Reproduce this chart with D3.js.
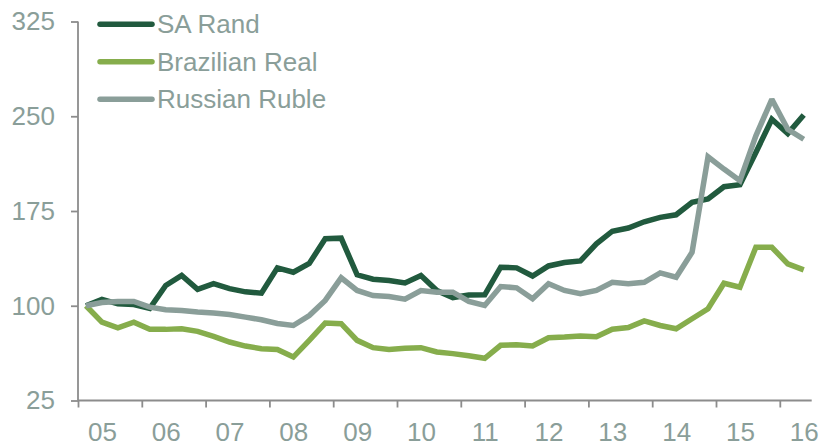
<!DOCTYPE html>
<html>
<head>
<meta charset="utf-8">
<script src="https://cdn.jsdelivr.net/npm/d3@7"></script>
<style>
  html, body { margin: 0; padding: 0; background: #fff; }
  svg { display: block; font-family: "Liberation Sans", Arial, sans-serif; }
</style>
</head>
<body>
<svg id="chart" width="819" height="444"></svg>
<script>
// Currency indices, quarterly, 2005 Q1 = 100 (through 2016 Q2)
const yearLabels = ["05","06","07","08","09","10","11","12","13","14","15","16"];
const yTicks = [25, 100, 175, 250, 325];

const saRand = [
  100, 105, 101.5, 101, 98, 116, 124, 113, 117.5, 113.5, 111, 110,
  130, 126.5, 133.5, 153, 153.5, 124.5, 121, 120, 118, 124, 112, 106.5,
  108.5, 108.7, 130.5, 130, 123.5, 131.5, 134.2, 135.5, 149, 159, 161.5, 166.5,
  170, 172, 181.8, 184.5, 194.2, 195.8, 221.3, 247.6, 236.3, 251
];
const brazilianReal = [
  100, 87, 82.6, 87, 81.3, 81.3, 81.8, 79.7, 75.8, 71.3, 68.1, 66,
  65.3, 59.4, 72.6, 86.3, 85.8, 72.6, 66.8, 65.3, 66.3, 66.8, 63.4, 62.1,
  60.4, 58.4, 68.7, 69.2, 68.1, 74.7, 75.2, 76, 75.4, 81.4, 82.7, 88, 84.4,
  81.8, 89.7, 97.6, 117.8, 114.7, 146.3, 146.3, 133.2, 128.4
];
const russianRuble = [
  100, 102.6, 103.4, 103.4, 98.9, 96.8, 96.3, 95, 94.2, 93.1, 91, 88.9,
  86, 84.4, 92.3, 104.2, 122.1, 112.1, 108.1, 107.3, 105.2, 112.1, 110.7, 110.7,
  103.5, 100.2, 115.2, 114.2, 105.5, 117.4, 112.1, 109.5, 112.1, 118.6, 117.4, 118.6,
  126, 122.6, 142.3, 217.9, 208.2, 199, 234.5, 263.4, 239.7, 231.8
];

const seriesNames = ["SA Rand", "Brazilian Real", "Russian Ruble"];
const seriesColors = ["#215a3e", "#86ad4c", "#8a9e99"];
const seriesData = [saRand, brazilianReal, russianRuble];

const textColor = "#8a9e99";
const axisColor = "#8c8c8c";

const svg = d3.select("#chart");

const nQ = saRand.length;
// continuous quarter position: 0 = start of 2005, 46 = mid 2016
const x = d3.scaleLinear().domain([0, nQ]).range([78, 811.7]);
const y = d3.scaleLinear().domain([25, 325]).range([400.5, 21.5]);

// Y axis
const yAxis = svg.append("g")
  .attr("transform", `translate(${x(0)},0)`)
  .call(d3.axisLeft(y).tickValues(yTicks).tickSize(7).tickPadding(16).tickSizeOuter(0));
yAxis.select(".domain").attr("stroke", axisColor).attr("stroke-width", 1.8)
  .attr("d", `M0,${y(325)}V${y(25)}`);
yAxis.selectAll(".tick line").attr("stroke", axisColor).attr("stroke-width", 1.8);
yAxis.selectAll(".tick text").attr("fill", textColor).attr("font-size", 26)
  .attr("font-family", "Liberation Sans, Arial, sans-serif");

// X axis: year boundary marks
const yearStarts = yearLabels.map((d, i) => i * 4);
const xMarks = svg.append("g")
  .attr("transform", `translate(0,${y(25)})`)
  .call(d3.axisBottom(x).tickValues(yearStarts).tickFormat("").tickSize(7).tickSizeOuter(0));
xMarks.select(".domain").attr("stroke", axisColor).attr("stroke-width", 1.8)
  .attr("d", `M${x(0)},0H${x(nQ)}`);
xMarks.selectAll(".tick line").attr("stroke", axisColor).attr("stroke-width", 1.8);

// X axis: year labels, placed between the 2nd and 3rd quarter of each year
const yearLabelPos = yearLabels.map((d, i) => i * 4 + 1.5);
const xLabels = svg.append("g")
  .attr("transform", `translate(0,${y(25)})`)
  .call(d3.axisBottom(x).tickValues(yearLabelPos)
    .tickFormat((d, i) => yearLabels[i]).tickSize(0).tickPadding(22));
xLabels.select(".domain").remove();
xLabels.selectAll(".tick text").attr("fill", textColor).attr("font-size", 26)
  .attr("font-family", "Liberation Sans, Arial, sans-serif");

// Lines
const line = d3.line()
  .x((d, i) => x(i + 0.5))
  .y(d => y(d));

seriesData.forEach((data, k) => {
  svg.append("path")
    .datum(data)
    .attr("fill", "none")
    .attr("stroke", seriesColors[k])
    .attr("stroke-width", 5.5)
    .attr("stroke-linejoin", "miter")
    .attr("stroke-miterlimit", 2)
    .attr("d", line);
});

// Legend
const legend = svg.append("g");
const legendY = d3.scalePoint().domain(seriesNames).range([24.3, 99.3]);
seriesNames.forEach((name, k) => {
  const ly = legendY(name);
  legend.append("line")
    .attr("x1", 100).attr("x2", 152)
    .attr("y1", ly).attr("y2", ly)
    .attr("stroke", seriesColors[k])
    .attr("stroke-width", 5.5)
    .attr("stroke-linecap", "round");
  legend.append("text")
    .attr("x", 157).attr("y", ly)
    .attr("dy", "0.35em")
    .attr("fill", textColor)
    .attr("font-size", 26)
    .text(name);
});
</script>
</body>
</html>
